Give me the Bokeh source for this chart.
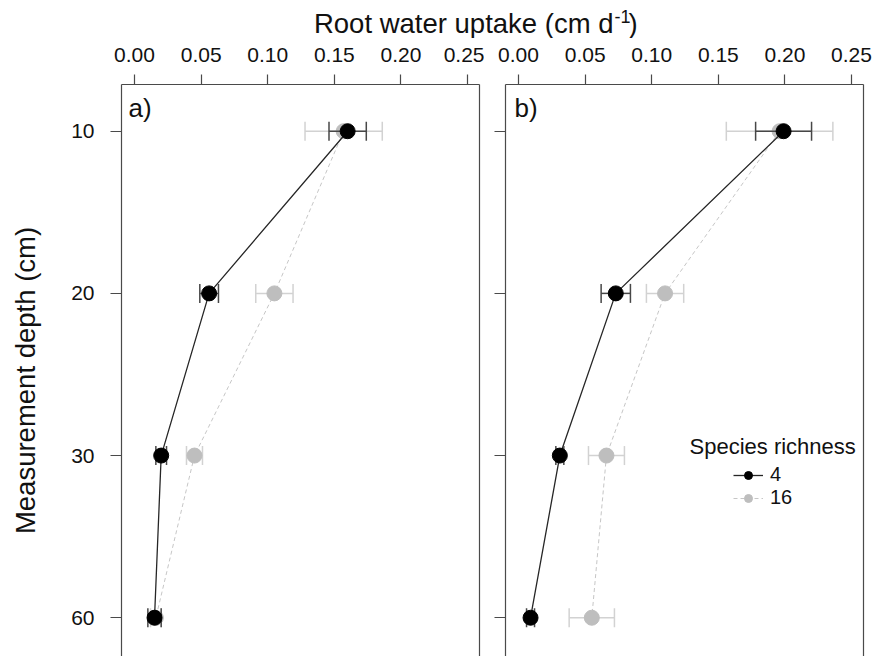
import math

from bokeh.plotting import figure
from bokeh.layouts import column, row
from bokeh.models import (ColumnDataSource, Label, Legend, LegendItem, LinearAxis,
                          Range1d, FixedTicker, NumeralTickFormatter)
from bokeh.embed import file_html
from bokeh.resources import INLINE

# Measurement depths (cm), listed from the surface downwards
depth_labels = ["10", "20", "30", "60"]

# Panel a): mean root water uptake (cm d-1) and standard errors
a_mean_4 = [0.160, 0.056, 0.020, 0.015]
a_se_4 = [0.014, 0.007, 0.004, 0.005]
a_mean_16 = [0.157, 0.105, 0.045, 0.016]
a_se_16 = [0.029, 0.014, 0.006, 0.004]

# Panel b): mean root water uptake (cm d-1) and standard errors
b_mean_4 = [0.199, 0.073, 0.031, 0.009]
b_se_4 = [0.021, 0.011, 0.003, 0.003]
b_mean_16 = [0.196, 0.110, 0.066, 0.055]
b_se_16 = [0.040, 0.014, 0.0135, 0.017]

uptake_ticks = [0.00, 0.05, 0.10, 0.15, 0.20, 0.25]
richness_levels = ["4", "16"]

FONT = "Liberation Sans"
AXIS = "#4a4a4a"
TEXT = "#111111"
BLACK = "#000000"
LINE_DARK = "#262626"
BAR_DARK = "#474747"
GREY = "#bebebe"
BAR_GREY = "#d2d2d2"
LINE_GREY = "#c6c6c6"

# distance from the text baseline to the middle of the em box, as a fraction of size
MID = 0.3465

depth_pos = list(range(1, len(depth_labels) + 1))


def style_axis(ax):
    ax.axis_line_color = AXIS
    ax.axis_line_width = 1.2
    ax.major_tick_line_color = AXIS
    ax.major_tick_line_width = 1.2
    ax.major_tick_in = 0
    ax.minor_tick_line_color = None
    ax.major_label_text_font = FONT
    ax.major_label_text_font_size = "21px"
    ax.major_label_text_color = TEXT


def text_label(x, baseline, text, size, **kw):
    """Label whose alphabetic baseline sits `baseline` px above the frame bottom."""
    return Label(x=x, y=baseline + MID * size, x_units="screen", y_units="screen",
                 text=text, text_font=FONT, text_font_size=f"{size}px",
                 text_color=TEXT, text_baseline="middle", **kw)


def make_panel(tag, tag_x, mean4, se4, mean16, se16, with_labels, border_left, border_right):
    p = figure(frame_width=358, frame_height=572,
               x_range=Range1d(-0.0098, 0.259), y_range=Range1d(4.239, 0.712),
               x_axis_type=None, y_axis_type=None,
               toolbar_location=None, output_backend="svg",
               min_border_left=border_left, min_border_right=border_right,
               min_border_top=46, min_border_bottom=0,
               outline_line_color=None,
               background_fill_color="white", border_fill_color="white")

    top = LinearAxis(ticker=FixedTicker(ticks=uptake_ticks),
                     formatter=NumeralTickFormatter(format="0.00"))
    style_axis(top)
    top.major_tick_out = 10
    top.major_label_standoff = 13
    p.add_layout(top, "above")

    left = LinearAxis(ticker=FixedTicker(ticks=depth_pos))
    style_axis(left)
    left.major_tick_out = 11
    if with_labels:
        left.major_label_overrides = {pos: lab for pos, lab in zip(depth_pos, depth_labels)}
        left.major_label_standoff = 16
    else:
        left.major_label_overrides = {pos: "" for pos in depth_pos}
        left.major_label_standoff = 0
    p.add_layout(left, "left")

    right = LinearAxis(ticker=FixedTicker(ticks=[]))
    style_axis(right)
    right.major_tick_out = 0
    right.major_label_standoff = 0
    p.add_layout(right, "right")

    series = [
        (mean16, se16, GREY, BAR_GREY, LINE_GREY, "4 3", 1.0),
        (mean4, se4, BLACK, BAR_DARK, LINE_DARK, "solid", 1.3),
    ]
    drawn = []
    for mean, se, pc, bc, lc, dash, lw in series:
        src = ColumnDataSource(dict(
            depth=depth_pos, mean=mean,
            lo=[m - s for m, s in zip(mean, se)],
            hi=[m + s for m, s in zip(mean, se)],
        ))
        ln = p.line("mean", "depth", source=src, line_color=lc, line_width=lw, line_dash=dash)
        p.segment(x0="lo", x1="hi", y0="depth", y1="depth", source=src,
                  line_color=bc, line_width=1.5)
        for end in ("lo", "hi"):
            p.scatter(end, "depth", source=src, marker="dash", angle=math.pi / 2,
                      size=19, line_color=bc, line_width=1.5)
        pt = p.scatter("mean", "depth", source=src, size=15, fill_color=pc, line_color=pc)
        drawn.append((ln, pt))

    # panel tag near the top-left corner of the frame
    p.add_layout(text_label(tag_x, 539, tag, 26))
    return p, drawn


fig_a, _ = make_panel("a)", 7, a_mean_4, a_se_4, a_mean_16, a_se_16, True, 76, 5)
fig_b, drawn_b = make_panel("b)", 9, b_mean_4, b_se_4, b_mean_16, b_se_16, False, 21, 10)

# Depth axis title in its own narrow strip left of panel a)
ylab_fig = figure(width=45, height=618, x_axis_type=None, y_axis_type=None,
                  x_range=Range1d(0, 1), y_range=Range1d(0, 1),
                  toolbar_location=None, output_backend="svg",
                  min_border=0, outline_line_color=None,
                  background_fill_color="white", border_fill_color="white")
ylab_fig.add_layout(Label(x=35 - MID * 27.5, y=276, x_units="screen", y_units="screen",
                          text="Measurement depth (cm)", angle=math.pi / 2,
                          text_align="center", text_baseline="middle",
                          text_font=FONT, text_font_size="27.5px", text_color=TEXT))

# Legend for species richness inside panel b)
fig_b.add_layout(text_label(184, 202, "Species richness", 22))
(line16, pt16), (line4, pt4) = drawn_b
legend = Legend(items=[LegendItem(label=richness_levels[0], renderers=[line4, pt4]),
                       LegendItem(label=richness_levels[1], renderers=[line16, pt16])],
                location=(228, 147), orientation="vertical",
                glyph_width=30, glyph_height=20, label_height=20, spacing=0,
                label_standoff=7, padding=0, margin=0,
                border_line_color=None, background_fill_alpha=0,
                label_text_font=FONT, label_text_font_size="20px", label_text_color=TEXT)
fig_b.add_layout(legend, "center")

# Shared title for the uptake axis across both panels
title_fig = figure(width=873, height=38, x_axis_type=None, y_axis_type=None,
                   x_range=Range1d(0, 1), y_range=Range1d(0, 1),
                   toolbar_location=None, output_backend="svg",
                   min_border=0, outline_line_color=None,
                   background_fill_color="white", border_fill_color="white")
title_base = 5.7
title_fig.add_layout(text_label(613, title_base, "Root water uptake (cm d", 27.5,
                                text_align="right"))
title_fig.add_layout(text_label(614, title_base + 10, "-1", 18, text_align="left"))
title_fig.add_layout(text_label(628, title_base, ")", 27.5, text_align="left"))

layout = column(title_fig, row(ylab_fig, fig_a, fig_b, spacing=0), spacing=0)

open("out.html", "w").write(file_html(layout, INLINE))
